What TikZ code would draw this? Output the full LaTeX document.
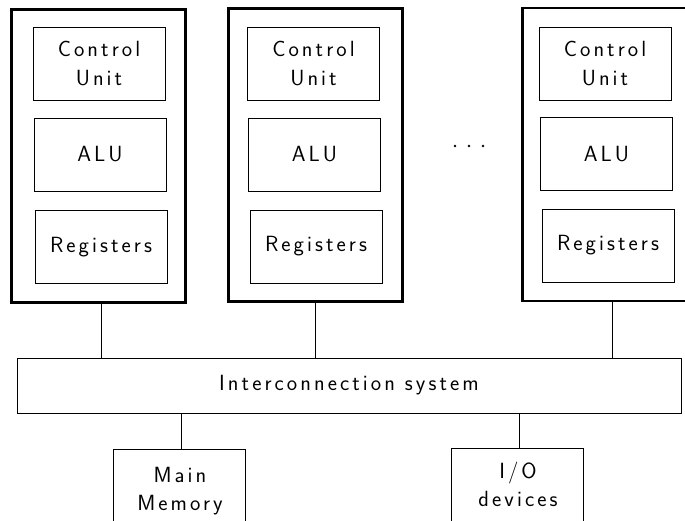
\documentclass[tikz,border=0pt]{standalone}
\usepackage{fontspec}
\newfontfamily\lbl{Latin Modern Sans}[LetterSpace=14]
\begin{document}
\begin{tikzpicture}[x=1pt,y=-1pt,
  cpu/.style={draw, line width=2.6pt, minimum width=174pt, minimum height=293pt, inner sep=0pt},
  unit/.style={draw, line width=0.8pt, minimum width=132pt, minimum height=73pt, inner sep=0pt,
    align=center, font=\lbl\fontsize{22}{29}\selectfont},
  bus/.style={draw, line width=0.8pt, minimum width=664pt, minimum height=55pt, inner sep=0pt,
    font=\lbl\fontsize{22}{24}\selectfont},
  outbox/.style={draw, line width=0.8pt, minimum width=132pt, minimum height=100pt, inner sep=0pt},
  txt/.style={align=center, inner sep=0pt, font=\lbl\fontsize{22}{28}\selectfont},
  wire/.style={line width=0.8pt}]
\clip (0,0) rectangle (685,520);

% processors
\node[cpu] (p1) at (98.5,156) {};
\node[cpu] (p2) at (315.5,155) {};
\node[cpu] (p3) at (609.5,154.5) {};

\node[unit] (cu1) at (99,63.5) {Control\\Unit};
\node[unit] (alu1) at (100,154.5) {ALU};
\node[unit] (reg1) at (101,247) {Registers};

\node[unit] (cu2) at (313.5,63.5) {Control\\Unit};
\node[unit] (alu2) at (314.5,154.5) {ALU};
\node[unit] (reg2) at (316,246.5) {Registers};

\node[unit] (cu3) at (605,63.5) {Control\\Unit};
\node[unit] (alu3) at (606.5,154) {ALU};
\node[unit] (reg3) at (608,245.5) {Registers};

% ellipsis between processors
\foreach \i/\x in {1/455,2/469,3/483}
  \fill (\x,146) circle (1.4pt) coordinate (dot\i);

% interconnection system
\node[bus] (bus) at (349,385.5) {Interconnection system};

% memory and I/O
\node[outbox] (mem) at (179.5,499) {};
\node[txt] (memtxt) at (180,491) {Main\\Memory};
\node[outbox] (io) at (517,498) {};
\node[txt] (iotxt) at (518,484) {I/O\\devices};

% connections
\draw[wire] ([xshift=2.5pt]p1.south) -- ([xshift=2.5pt]p1.south |- bus.north);
\draw[wire] (p2.south) -- (p2.south |- bus.north);
\draw[wire] ([xshift=2.5pt]p3.south) -- ([xshift=2.5pt]p3.south |- bus.north);
\draw[wire] ([xshift=1.5pt]mem.north |- bus.south) -- ([xshift=1.5pt]mem.north);
\draw[wire] ([xshift=2pt]io.north |- bus.south) -- ([xshift=2pt]io.north);
\end{tikzpicture}
\end{document}
